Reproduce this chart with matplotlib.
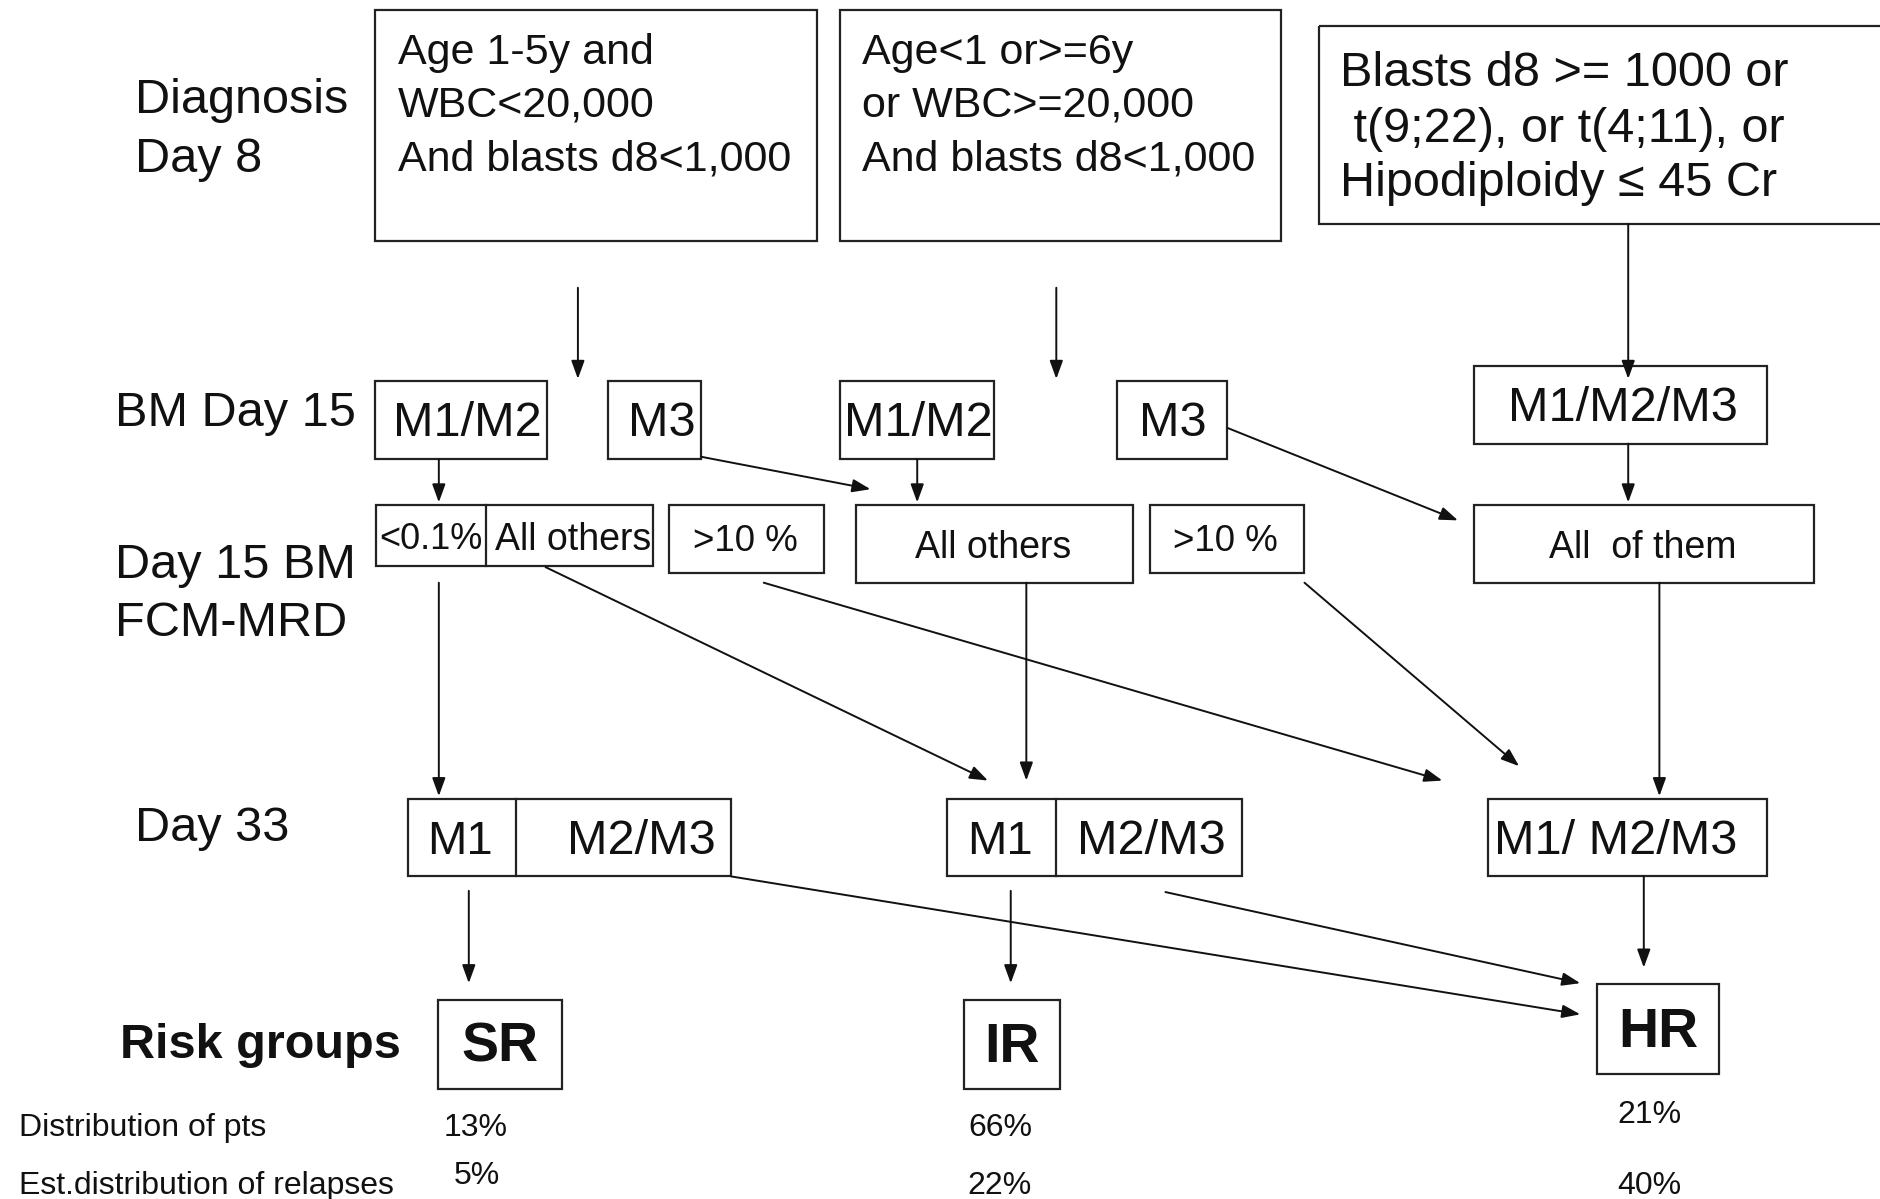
import matplotlib
matplotlib.use("Agg")
import matplotlib.pyplot as plt
from matplotlib.patches import Rectangle

plt.rcParams['font.family'] = ['Liberation Sans', 'DejaVu Sans']

# ---------------- content ----------------
stage_labels = ["Diagnosis\nDay 8", "BM Day 15", "Day 15 BM\nFCM-MRD", "Day 33"]
risk_label = "Risk groups"
diag_box_texts = [
    ["Age 1-5y and", "WBC<20,000", "And blasts d8<1,000"],
    ["Age<1 or>=6y", "or WBC>=20,000", "And blasts d8<1,000"],
    ["Blasts d8 >= 1000 or", " t(9;22), or t(4;11), or", "Hipodiploidy \u2264 45 Cr"],
]
bm15_texts = ["M1/M2", "M3", "M1/M2", "M3", "M1/M2/M3"]
mrd_texts = ["<0.1%", "All others", ">10 %", "All others", ">10 %", "All  of them"]
d33_texts = ["M1", "M2/M3", "M1", "M2/M3", "M1/ M2/M3"]
risk_groups = ["SR", "IR", "HR"]
row_labels = ["Distribution of pts", "Est.distribution of relapses"]
dist_pts = ["13%", "66%", "21%"]
dist_relapses = ["5%", "22%", "40%"]

# ---------------- drawing ----------------
fig = plt.figure(figsize=(18.8, 11.99), dpi=100)
ax = fig.add_axes([0, 0, 1, 1])
ax.set_xlim(0, 1568)
ax.set_ylim(1000, 0)
ax.axis('off')

EC = '#222222'
BLW = 1.6
ALW = 1.4
DY = 2  # small vertical text offset


def box(x0, y0, x1, y1):
    ax.add_patch(Rectangle((x0, y0), x1 - x0, y1 - y0, fill=False,
                           edgecolor=EC, linewidth=BLW, clip_on=False))


def vline(x, y0, y1):
    ax.plot([x, x], [y0, y1], color=EC, lw=BLW)


def arrow(x0, y0, x1, y1):
    ax.annotate('', xy=(x1, y1), xytext=(x0, y0),
                arrowprops=dict(arrowstyle='-|>,head_length=0.55,head_width=0.2',
                                color='#111111', lw=ALW, shrinkA=0, shrinkB=0,
                                mutation_scale=20))


def txt(x, y, s, size, ha='center', weight='normal'):
    ax.text(x, y + DY, s, fontsize=size, ha=ha, va='center', weight=weight,
            color='#111111', linespacing=1.25)


# stage labels
txt(113, 82, stage_labels[0].split("\n")[0], 35, ha='left')
txt(113, 131, stage_labels[0].split("\n")[1], 35, ha='left')
txt(96, 343, stage_labels[1], 35, ha='left')
txt(96, 470, stage_labels[2].split("\n")[0], 35, ha='left')
txt(96, 518, stage_labels[2].split("\n")[1], 35, ha='left')
txt(113, 689, stage_labels[3], 35, ha='left')
txt(100, 870, risk_label, 35, ha='left', weight='bold')

# diagnosis boxes
box(313, 8, 681, 201)
box(701, 8, 1068, 201)
box(1100, 22, 1590, 187)
for i, ly in enumerate([42, 86, 131]):
    txt(332, ly, diag_box_texts[0][i], 31, ha='left')
    txt(719, ly, diag_box_texts[1][i], 31, ha='left')
for i, ly in enumerate([59, 106, 151]):
    txt(1118, ly, diag_box_texts[2][i], 35, ha='left')

# arrows from diagnosis
arrow(482, 240, 482, 316)
arrow(881, 240, 881, 316)
arrow(1358, 187, 1358, 316)

# BM day 15 boxes
bm_boxes = [(313, 318, 456, 383), (507, 318, 585, 383), (701, 318, 829, 383),
            (932, 318, 1023, 383), (1229, 305, 1474, 370)]
bm_cx = [390, 552, 766, 978, 1354]
for (x0, y0, x1, y1), s, cx in zip(bm_boxes, bm15_texts, bm_cx):
    box(x0, y0, x1, y1)
    txt(cx, (y0 + y1) / 2 + 1, s, 35)

# arrows BM15 -> MRD
arrow(366, 383, 366, 419)
arrow(585, 381, 726, 408)
arrow(765, 383, 765, 419)
arrow(1024, 357, 1216, 434)
arrow(1358, 370, 1358, 419)

# MRD boxes
box(314, 421, 545, 472)
vline(405, 421, 472)
box(558, 421, 687, 478)
box(714, 421, 945, 486)
box(959, 421, 1088, 478)
box(1229, 421, 1513, 486)
txt(359, 448, mrd_texts[0], 26)
txt(478, 448, mrd_texts[1], 27)
txt(622, 450, mrd_texts[2], 26.5)
txt(828, 455, mrd_texts[3], 27)
txt(1022, 450, mrd_texts[4], 26.5)
txt(1370, 455, mrd_texts[5], 27)

# arrows MRD -> Day 33
arrow(366, 486, 366, 664)
arrow(455, 473, 824, 651)
arrow(637, 486, 1203, 651)
arrow(856, 486, 856, 651)
arrow(1088, 486, 1267, 639)
arrow(1384, 486, 1384, 664)

# Day 33 boxes
box(340, 666, 610, 731)
vline(430, 666, 731)
box(790, 666, 1036, 731)
vline(881, 666, 731)
box(1241, 666, 1474, 731)
txt(384, 700, d33_texts[0], 34)
txt(535, 700, d33_texts[1], 35)
txt(834, 700, d33_texts[2], 34)
txt(960, 700, d33_texts[3], 35)
txt(1246, 700, d33_texts[4], 35, ha='left')

# arrows Day 33 -> risk groups
arrow(391, 743, 391, 820)
arrow(610, 731, 1318, 846)
arrow(843, 743, 843, 820)
arrow(972, 744, 1318, 820)
arrow(1371, 731, 1371, 807)

# risk boxes
risk_boxes = [(365, 834, 469, 908), (804, 834, 884, 908), (1332, 821, 1434, 896)]
for (x0, y0, x1, y1), s in zip(risk_boxes, risk_groups):
    box(x0, y0, x1, y1)
    txt((x0 + x1) / 2, (y0 + y1) / 2 + 1, s, 40, weight='bold')

# distributions
txt(16, 939, row_labels[0], 23, ha='left')
txt(16, 987, row_labels[1], 23, ha='left')
for cx, cy, s in zip([397, 834, 1376], [939, 939, 928], dist_pts):
    txt(cx, cy, s, 23)
for cx, cy, s in zip([398, 834, 1376], [979, 987, 987], dist_relapses):
    txt(cx, cy, s, 23)

fig.savefig("out.png", dpi=100, facecolor='white')
